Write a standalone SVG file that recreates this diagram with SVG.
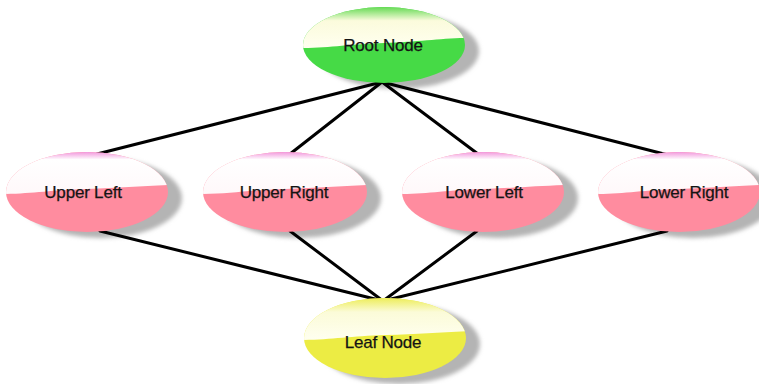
<svg xmlns="http://www.w3.org/2000/svg" width="759" height="384" viewBox="0 0 759 384">
<style>
.edge{stroke:#000;stroke-width:3;fill:none;stroke-linecap:round}
.shadow{fill:#b4b4b4;filter:url(#blur)}
.pink{fill:#ff8c9f}
.green{fill:#46da46}
.yellow{fill:#ecec44}
.label{font-family:"Liberation Sans",Arial,sans-serif;font-size:17px;fill:#141414;stroke:#141414;stroke-width:0.25;text-anchor:middle;letter-spacing:-0.2px}
</style>
<defs>
<filter id="blur" x="-20%" y="-30%" width="140%" height="160%"><feGaussianBlur stdDeviation="2"/></filter>
<linearGradient id="hlPink" x1="0" y1="0" x2="0" y2="1">
<stop offset="0" stop-color="#f08ad8"/>
<stop offset="0.2" stop-color="#ffffff"/>
<stop offset="1" stop-color="#fff8fa"/>
</linearGradient>
<linearGradient id="hlGreen" x1="0" y1="0" x2="0" y2="1">
<stop offset="0" stop-color="#5ad84a"/>
<stop offset="0.35" stop-color="#fbfbdc"/>
<stop offset="1" stop-color="#fffff0"/>
</linearGradient>
<linearGradient id="hlYellow" x1="0" y1="0" x2="0" y2="1">
<stop offset="0" stop-color="#ecec50"/>
<stop offset="0.35" stop-color="#fbfbd8"/>
<stop offset="1" stop-color="#fffff0"/>
</linearGradient>
<clipPath id="cRoot"><ellipse cx="384" cy="45" rx="81" ry="38"/></clipPath>
<clipPath id="cUL"><ellipse cx="87" cy="192" rx="81" ry="40"/></clipPath>
<clipPath id="cUR"><ellipse cx="285" cy="192" rx="82" ry="40"/></clipPath>
<clipPath id="cLL"><ellipse cx="483" cy="192" rx="81" ry="40"/></clipPath>
<clipPath id="cLR"><ellipse cx="679" cy="192" rx="81" ry="40"/></clipPath>
<clipPath id="cLeaf"><ellipse cx="385" cy="338" rx="81" ry="40"/></clipPath>
</defs>
<rect width="759" height="384" fill="#fff"/>
<g id="shadows">
<ellipse class="shadow" cx="398" cy="51" rx="81" ry="38"/>
<ellipse class="shadow" cx="101" cy="198" rx="81" ry="40"/>
<ellipse class="shadow" cx="299" cy="198" rx="82" ry="40"/>
<ellipse class="shadow" cx="497" cy="198" rx="81" ry="40"/>
<ellipse class="shadow" cx="693" cy="198" rx="81" ry="40"/>
<ellipse class="shadow" cx="399" cy="344" rx="81" ry="40"/>
</g>
<g id="connectors">
<line class="edge" x1="382" y1="82" x2="97" y2="154"/>
<line class="edge" x1="382" y1="82" x2="290" y2="154"/>
<line class="edge" x1="382" y1="82" x2="478" y2="154"/>
<line class="edge" x1="382" y1="82" x2="668" y2="155"/>
<line class="edge" x1="383" y1="301" x2="100" y2="231"/>
<line class="edge" x1="383" y1="301" x2="290" y2="231"/>
<line class="edge" x1="383" y1="301" x2="477" y2="231"/>
<line class="edge" x1="383" y1="301" x2="667" y2="231"/>
</g>
<g id="root">
<ellipse class="green" cx="384" cy="45" rx="81" ry="38"/>
<path clip-path="url(#cRoot)" fill="url(#hlGreen)" d="M300,6 H470 V38 C440,38 420,42 384,43 C350,44 330,48 300,48 Z"/>
<text class="label" x="383" y="51">Root Node</text>
</g>
<g id="upper-left">
<ellipse class="pink" cx="87" cy="192" rx="81" ry="40"/>
<path clip-path="url(#cUL)" fill="url(#hlPink)" d="M0,151 H170 V185 C140,186 120,188 87,189 C50,190 30,194 0,194 Z"/>
<text class="label" x="83" y="198">Upper Left</text>
</g>
<g id="upper-right">
<ellipse class="pink" cx="285" cy="192" rx="82" ry="40"/>
<path clip-path="url(#cUR)" fill="url(#hlPink)" d="M200,151 H370 V185 C340,186 320,188 285,189 C250,190 230,194 200,194 Z"/>
<text class="label" x="284" y="198">Upper Right</text>
</g>
<g id="lower-left">
<ellipse class="pink" cx="483" cy="192" rx="81" ry="40"/>
<path clip-path="url(#cLL)" fill="url(#hlPink)" d="M400,151 H566 V185 C536,186 516,188 483,189 C448,190 428,194 400,194 Z"/>
<text class="label" x="484" y="198">Lower Left</text>
</g>
<g id="lower-right">
<ellipse class="pink" cx="679" cy="192" rx="81" ry="40"/>
<path clip-path="url(#cLR)" fill="url(#hlPink)" d="M596,151 H762 V185 C732,186 712,188 679,189 C644,190 624,194 596,194 Z"/>
<text class="label" x="684" y="198">Lower Right</text>
</g>
<g id="leaf">
<ellipse class="yellow" cx="385" cy="338" rx="81" ry="40"/>
<path clip-path="url(#cLeaf)" fill="url(#hlYellow)" d="M300,297 H470 V331 C440,332 420,334 385,335 C350,336 330,340 300,340 Z"/>
<text class="label" x="383" y="348">Leaf Node</text>
</g>
</svg>
